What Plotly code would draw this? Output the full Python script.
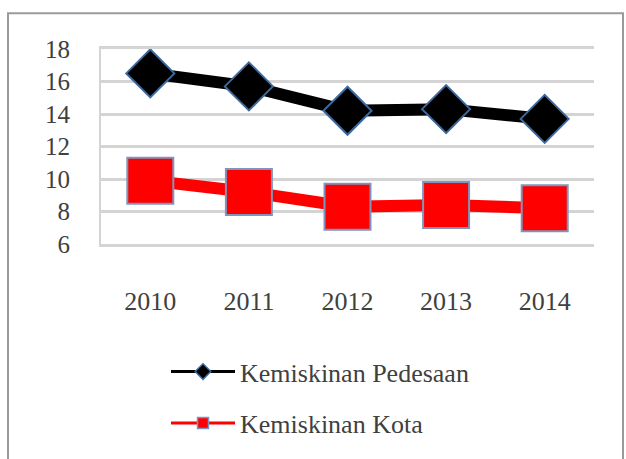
import plotly.graph_objects as go

years = ["2010", "2011", "2012", "2013", "2014"]
pedesaan = [16.5, 15.7, 14.2, 14.3, 13.7]
kota = [9.9, 9.2, 8.3, 8.4, 8.2]
y_ticks = [6, 8, 10, 12, 14, 16, 18]
name_pedesaan = "Kemiskinan Pedesaan"
name_kota = "Kemiskinan Kota"

W, H = 626, 459
L, R, T, B = 101, 594, 49, 246

def px_x(p):
    return (p - L) / (R - L)

def px_y(p):
    return (B - p) / (B - T)

font_fam = "Liberation Serif, Times New Roman, serif"
txt_col = "#404040"
grid_col = "#d4d4d4"

fig = go.Figure()
fig.add_trace(go.Scatter(
    x=years, y=pedesaan, mode="lines+markers", showlegend=False,
    line=dict(color="black", width=12),
    marker=dict(symbol="diamond", size=37, color="black",
                line=dict(color="#3d6a9e", width=2)),
))
fig.add_trace(go.Scatter(
    x=years, y=kota, mode="lines+markers", showlegend=False,
    line=dict(color="#ff0000", width=12),
    marker=dict(symbol="square", size=46, color="#ff0000",
                line=dict(color="#7f95bd", width=2)),
))
# legend entries
fig.add_trace(go.Scatter(
    x=[None], y=[None], mode="lines+markers", name=name_pedesaan, legend="legend",
    line=dict(color="black", width=3),
    marker=dict(symbol="diamond", size=12, color="black",
                line=dict(color="#3d6a9e", width=1.5)),
))
fig.add_trace(go.Scatter(
    x=[None], y=[None], mode="lines+markers", name=name_kota, legend="legend2",
    line=dict(color="#ff0000", width=3),
    marker=dict(symbol="square", size=11, color="#ff0000",
                line=dict(color="#7f95bd", width=1.5)),
))

leg_font = dict(family=font_fam, size=26, color=txt_col)
fig.update_layout(
    width=W, height=H,
    margin=dict(l=L, r=W - R, t=T, b=H - B, pad=0),
    paper_bgcolor="white", plot_bgcolor="white",
    font=dict(family=font_fam, size=25, color=txt_col),
    legend=dict(x=px_x(166), y=px_y(375), xanchor="left", yanchor="middle",
                itemwidth=64, bgcolor="rgba(0,0,0,0)", font=leg_font),
    legend2=dict(x=px_x(166), y=px_y(427), xanchor="left", yanchor="middle",
                 itemwidth=64, bgcolor="rgba(0,0,0,0)", font=leg_font),
    xaxis=dict(type="category", range=[-0.5, 4.5], showgrid=False,
               showline=True, mirror=True, linecolor=grid_col, linewidth=2.5,
               zeroline=False, ticks="",
               ticklabelstandoff=32, tickfont=dict(size=26)),
    yaxis=dict(range=[6, 18], tickvals=y_ticks, showgrid=True,
               gridcolor=grid_col, gridwidth=2.5, zeroline=False,
               showline=True, linecolor=grid_col, linewidth=2,
               ticks="", ticklabelstandoff=24, tickfont=dict(size=25)),
    shapes=[
        dict(type="rect", xref="paper", yref="paper",
             x0=px_x(8), x1=px_x(623), y0=px_y(470), y1=px_y(13),
             line=dict(color="#9a9a9a", width=2), layer="below"),
    ],
)

fig.write_html("out.html", config={"displayModeBar": False},
               post_script="document.body.style.margin='0';document.body.style.overflow='hidden';")
